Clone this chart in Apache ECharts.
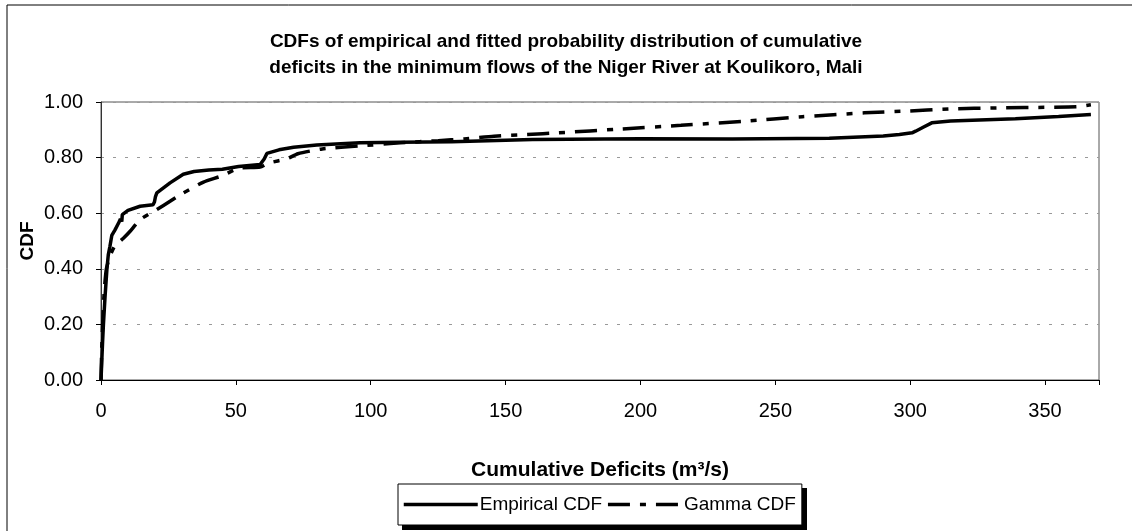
<!DOCTYPE html>
<html>
<head>
<meta charset="utf-8">
<script src="https://cdn.jsdelivr.net/npm/echarts@6/dist/echarts.min.js"></script>
<style>
  html, body { margin: 0; padding: 0; background: #fff; }
  #chart { width: 1132px; height: 531px; }
</style>
</head>
<body>
<div id="chart"></div>
<script>
// CDF chart - empirical vs gamma

const empX = [0, 0.3, 0.6, 0.9, 1.5, 2.2, 2.7, 3.3, 4, 5.2, 6.8, 7.2, 7.7, 7.9, 10, 14.5, 19.3, 19.8, 20.2, 20.7, 25.6, 30.5, 34.5, 40, 45, 51, 59, 60.5, 61.5, 66, 71.4, 80, 96, 111, 130, 160, 200, 234, 270, 290, 296, 300.7, 302, 305, 308, 315, 339, 355, 367];
const empY = [0, 0.07, 0.14, 0.20, 0.30, 0.40, 0.45, 0.48, 0.52, 0.54, 0.57, 0.58, 0.57, 0.595, 0.61, 0.625, 0.63, 0.64, 0.66, 0.673, 0.709, 0.74, 0.75, 0.755, 0.758, 0.768, 0.775, 0.795, 0.815, 0.828, 0.837, 0.845, 0.853, 0.855, 0.857, 0.865, 0.868, 0.867, 0.87, 0.878, 0.883, 0.889, 0.895, 0.91, 0.925, 0.932, 0.94, 0.948, 0.955];

const gamX = [0, 0.3, 0.7, 1.2, 2, 3.3, 5, 8.3, 10.8, 14.5, 20.7, 25.6, 30, 38, 45, 51, 59, 62, 69, 73, 82, 96, 111, 125, 134.6, 145.7, 158, 169.6, 193, 215, 238.7, 260, 283, 298, 314.5, 333, 351.6, 362, 367];
const gamY = [0, 0.12, 0.22, 0.32, 0.40, 0.445, 0.48, 0.51, 0.535, 0.577, 0.613, 0.643, 0.67, 0.712, 0.735, 0.762, 0.766, 0.78, 0.796, 0.814, 0.831, 0.842, 0.853, 0.861, 0.867, 0.877, 0.883, 0.889, 0.903, 0.916, 0.931, 0.947, 0.961, 0.967, 0.975, 0.979, 0.981, 0.983, 0.99];

const seriesNames = ['Empirical CDF', 'Gamma CDF'];
const titleLines = ['CDFs of empirical and fitted probability distribution of cumulative', 'deficits in the minimum flows of the Niger River at Koulikoro, Mali'];
const xName = 'Cumulative Deficits (m³/s)';
const yName = 'CDF';

const font = 'Liberation Sans, Arial, sans-serif';

const chart = echarts.init(document.getElementById('chart'));

let option = {
    animation: false,
    backgroundColor: '#fff',
    textStyle: { fontFamily: font },
    title: {
        text: titleLines.join('\n'),
        left: 'center',
        top: 24,
        textStyle: {
            fontFamily: font,
            fontSize: 19,
            fontWeight: 'bold',
            color: '#000',
            lineHeight: 26
        }
    },
    graphic: [
        {
            // outer frame
            type: 'rect',
            shape: { x: 7, y: 5, width: 1140, height: 540 },
            style: { fill: 'none', stroke: '#000', lineWidth: 1 },
            silent: true
        },
        {
            // legend drop shadow
            type: 'rect',
            z: 1,
            shape: { x: 402, y: 488, width: 405, height: 42 },
            style: { fill: '#000' },
            silent: true
        }
    ],
    grid: {
        left: 101,
        right: 33,
        top: 102,
        bottom: 151,
        show: true,
        borderColor: '#555',
        borderWidth: 1
    },
    legend: {
        left: 398,
        top: 484,
        z: 5,
        padding: [11, 6, 11, 4],
        itemWidth: 74,
        itemHeight: 6,
        itemGap: 4,
        backgroundColor: '#fff',
        borderColor: '#000',
        borderWidth: 1,
        lineStyle: { width: 3.5 },
        itemStyle: { color: 'transparent', borderWidth: 0, opacity: 0 },
        textStyle: { fontFamily: font, fontSize: 19, color: '#000', padding: [0, 0, 0, -3] },
        data: seriesNames
    },
    xAxis: {
        type: 'value',
        min: 0,
        max: 370,
        interval: 50,
        name: xName,
        nameLocation: 'middle',
        nameGap: 80,
        nameTextStyle: { fontFamily: font, fontSize: 21, fontWeight: 'bold', color: '#000' },
        axisLine: { lineStyle: { color: '#000', width: 1 } },
        axisTick: { show: true, length: 5, lineStyle: { color: '#000' } },
        axisLabel: {
            fontFamily: font,
            fontSize: 20,
            color: '#000',
            margin: 21,
            formatter: function (v) { return v <= 350 ? String(v) : ''; }
        },
        splitLine: { show: false }
    },
    yAxis: {
        type: 'value',
        min: 0,
        max: 1,
        interval: 0.2,
        name: yName,
        nameLocation: 'middle',
        nameGap: 64,
        nameMoveOverlap: false,
        nameRotate: 90,
        nameTextStyle: { fontFamily: font, fontSize: 19, fontWeight: 'bold', color: '#000' },
        axisLine: { show: true, lineStyle: { color: '#333', width: 1 } },
        axisTick: { show: true, length: 5, lineStyle: { color: '#000' } },
        axisLabel: {
            fontFamily: font,
            fontSize: 20,
            color: '#000',
            margin: 18,
            formatter: function (v) { return v.toFixed(2); }
        },
        splitLine: {
            lineStyle: { color: '#999', type: [3, 9], width: 1 }
        }
    },
    series: [
        {
            name: seriesNames[0],
            type: 'line',
            symbol: 'none',
            showSymbol: false,
            data: empX.map((x, i) => [x, empY[i]]),
            lineStyle: { color: '#000', width: 3.5 },
            itemStyle: { color: '#000' },
            z: 3
        },
        {
            name: seriesNames[1],
            type: 'line',
            symbol: 'none',
            showSymbol: false,
            smooth: 0.2,
            data: gamX.map((x, i) => [x, gamY[i]]),
            lineStyle: { color: '#000', width: 3.5, type: [22, 10, 6, 10] },
            itemStyle: { color: '#000' },
            z: 2
        }
    ]
};

option && chart.setOption(option);
</script>
</body>
</html>
